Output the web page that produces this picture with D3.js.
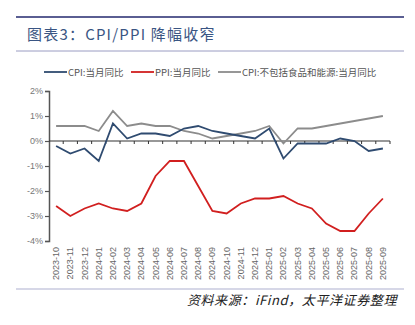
<!DOCTYPE html>
<html lang="en">
<head>
<meta charset="UTF-8">
<title>CPI/PPI</title>
<script src="https://cdn.jsdelivr.net/npm/d3@7"></script>
<style>
  body { margin: 0; background: #fff; }
  svg { display: block; font-family: "Liberation Sans", "Noto Sans CJK SC", sans-serif; }
</style>
</head>
<body>
<div id="chart"></div>
<script>
// monthly series, year-on-year %
const months = ["2023-10","2023-11","2023-12","2024-01","2024-02","2024-03","2024-04","2024-05",
  "2024-06","2024-07","2024-08","2024-09","2024-10","2024-11","2024-12","2025-01","2025-02",
  "2025-03","2025-04","2025-05","2025-06","2025-07","2025-08","2025-09"];
const cpi  = [-0.2,-0.5,-0.3,-0.8,0.7,0.1,0.3,0.3,0.2,0.5,0.6,0.4,0.3,0.2,0.1,0.5,-0.7,-0.1,-0.1,-0.1,0.1,0.0,-0.4,-0.3];
const ppi  = [-2.6,-3.0,-2.7,-2.5,-2.7,-2.8,-2.5,-1.4,-0.8,-0.8,-1.8,-2.8,-2.9,-2.5,-2.3,-2.3,-2.2,-2.5,-2.7,-3.3,-3.6,-3.6,-2.9,-2.3];
const core = [0.6,0.6,0.6,0.4,1.2,0.6,0.7,0.6,0.6,0.4,0.3,0.1,0.2,0.3,0.4,0.6,-0.1,0.5,0.5,0.6,0.7,0.8,0.9,1.0];
const yTicks = [2,1,0,-1,-2,-3,-4];

const series = [
  { name: "CPI:当月同比", values: cpi, color: "#2f4b70" },
  { name: "PPI:当月同比", values: ppi, color: "#d11f1f" },
  { name: "CPI:不包括食品和能源:当月同比", values: core, color: "#8c8c8c" }
];

const W = 415, H = 325;
const svg = d3.select("#chart").append("svg").attr("width", W).attr("height", H);

// header rules and title
svg.append("line").attr("x1", 16).attr("x2", 404).attr("y1", 17).attr("y2", 17)
  .attr("stroke", "#5a5e92").attr("stroke-width", 2);
svg.append("line").attr("x1", 16).attr("x2", 404).attr("y1", 51).attr("y2", 51)
  .attr("stroke", "#9a9cc2").attr("stroke-width", 1);
svg.append("text").attr("x", 27).attr("y", 40)
  .attr("font-family", "'Noto Sans CJK SC', sans-serif")
  .attr("font-size", 15).attr("fill", "#3a5583").attr("letter-spacing", 1.2)
  .text("图表3：CPI/PPI 降幅收窄");

const x = d3.scaleBand().domain(months).range([49, 390]);
const y = d3.scaleLinear().domain([-4, 2]).range([241, 91]);

// y axis
const yAxis = svg.append("g").attr("transform", "translate(49,0)")
  .call(d3.axisLeft(y).tickValues(yTicks).tickSize(4).tickFormat(d => d + "%"));
yAxis.select(".domain").attr("stroke", "#555").attr("stroke-width", 1.5);
yAxis.selectAll(".tick line").attr("stroke", "#555").attr("stroke-width", 1.2);
yAxis.selectAll(".tick text").attr("fill", "#777").attr("font-size", 9).attr("x", -6);

// x axis sits on the zero line
const xAxis = svg.append("g").attr("transform", `translate(0,${y(0)})`)
  .call(d3.axisBottom(x).tickSize(3).tickFormat(""));
xAxis.select(".domain").attr("stroke", "#333").attr("stroke-width", 1.2)
  .attr("d", `M49,0H390`);
xAxis.selectAll(".tick line").attr("stroke", "#333")
  .attr("transform", `translate(${x.bandwidth() / 2},0)`);

// month labels, rotated, below the plot
svg.append("g").selectAll("text").data(months).join("text")
  .attr("transform", d => `translate(${x(d) + x.bandwidth() / 2 + 3},${y(-4) + 6}) rotate(-90)`)
  .attr("text-anchor", "end")
  .attr("font-size", 9).attr("fill", "#666")
  .text(d => d);

// lines
const line = d3.line()
  .x((d, i) => x(months[i]) + x.bandwidth() / 2)
  .y(d => y(d));
svg.append("g").selectAll("path").data([series[2], series[0], series[1]]).join("path")
  .attr("d", d => line(d.values))
  .attr("fill", "none")
  .attr("stroke", d => d.color)
  .attr("stroke-width", 1.8);

// legend
const legendX = [44, 131, 218];
const lg = svg.append("g").selectAll("g").data(series).join("g")
  .attr("transform", (d, i) => `translate(${legendX[i]},72)`);
lg.append("line").attr("x1", 0).attr("x2", 23).attr("stroke", d => d.color).attr("stroke-width", 1.8);
lg.append("text").attr("x", 24).attr("y", 3.5)
  .attr("font-size", 9.5).attr("fill", "#555")
  .attr("font-family", "'Noto Sans CJK SC', sans-serif")
  .text(d => d.name);

// footer
svg.append("line").attr("x1", 16).attr("x2", 404).attr("y1", 289).attr("y2", 289)
  .attr("stroke", "#aeb0cf").attr("stroke-width", 1.2);
svg.append("text").attr("x", 397).attr("y", 305).attr("text-anchor", "end")
  .attr("font-family", "'Noto Sans CJK SC', sans-serif")
  .attr("font-size", 13).attr("font-style", "italic").attr("fill", "#222")
  .attr("letter-spacing", 0.6)
  .text("资料来源：iFind，太平洋证券整理");
</script>
</body>
</html>
